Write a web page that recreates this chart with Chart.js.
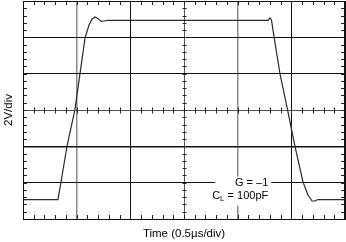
<!DOCTYPE html>
<html>
<head>
<meta charset="utf-8">
<script src="https://cdn.jsdelivr.net/npm/chart.js@4/dist/chart.umd.min.js"></script>
<style>
  html, body { margin: 0; padding: 0; background: #fff; }
  #wrap { width: 346px; height: 242px; }
</style>
</head>
<body>
<div id="wrap"><canvas id="scope"></canvas></div>
<script>
// time in microseconds (0.5 us per division), output in volts (2 V per division)
let timeUs = [0, 0.326, 0.41, 0.484, 0.531, 0.578, 0.615, 0.643, 0.671, 0.699, 0.727, 0.755, 0.792,
  2.283, 2.301, 2.315, 2.339, 2.394, 2.464, 2.534, 2.609, 2.655, 2.693, 2.72, 2.748, 3.0];
let volts = [-4.93, -4.93, -2.0, 0.03, 2.0, 3.97, 4.68, 5.01, 5.12, 5.04, 4.88, 4.9, 4.93,
  4.93, 5.07, 4.96, 4.03, 2.0, 0.03, -2.0, -3.97, -4.68, -5.01, -5.01, -4.93, -4.93];

let xTitle = "Time (0.5\u00b5s/div)";
let yTitle = "2V/div";
let noteGain = "G = \u20131";
let noteLoad = ["C", "L", " = 100pF"];

let font = "'Liberation Sans', Arial, Helvetica, sans-serif";

let points = timeUs.map((t, i) => ({ x: t, y: volts[i] }));

// minor ticks on the frame and on the centre cross, plus the G / CL note
let scopeDecor = {
  id: "scopeDecor",
  afterDatasetsDraw(chart) {
    let { ctx, chartArea: a, scales: { x, y } } = chart;
    ctx.save();
    ctx.strokeStyle = "#222";
    ctx.lineWidth = 1;
    ctx.beginPath();
    let xc = Math.round(x.getPixelForValue(1.5)) + 0.5;
    let yc = Math.round(y.getPixelForValue(0)) + 0.5;
    for (let k = 1; k < 30; k++) {
      let px = Math.round(x.getPixelForValue(k * 0.1)) + 0.5;
      ctx.moveTo(px, a.top); ctx.lineTo(px, a.top + 4);
      ctx.moveTo(px, a.bottom); ctx.lineTo(px, a.bottom - 4);
      ctx.moveTo(px, yc - 3); ctx.lineTo(px, yc + 3);
    }
    for (let k = 1; k < 30; k++) {
      let py = Math.round(y.getPixelForValue(-6 + k * 0.4)) + 0.5;
      ctx.moveTo(a.left, py); ctx.lineTo(a.left + 4, py);
      ctx.moveTo(a.right, py); ctx.lineTo(a.right - 4, py);
      ctx.moveTo(xc - 2, py); ctx.lineTo(xc + 2, py);
    }
    ctx.stroke();

    // note box
    let rx = x.getPixelForValue(2.285);
    let gy = y.getPixelForValue(-4);
    let cy = y.getPixelForValue(-4.68);
    ctx.fillStyle = "#fff";
    ctx.fillRect(rx - 53, gy - 6, 56, 29);
    ctx.fillStyle = "#000";
    ctx.textBaseline = "middle";
    ctx.textAlign = "right";
    ctx.font = "11px " + font;
    ctx.fillText(noteGain, rx, gy);
    let w3 = ctx.measureText(noteLoad[2]).width;
    ctx.fillText(noteLoad[2], rx, cy + 1);
    ctx.font = "8px " + font;
    let w2 = ctx.measureText(noteLoad[1]).width;
    ctx.fillText(noteLoad[1], rx - w3, cy + 4);
    ctx.font = "11px " + font;
    ctx.fillText(noteLoad[0], rx - w3 - w2, cy + 1);
    ctx.restore();
  },
};

let xGridColor = (c) => {
  let v = c.tick ? c.tick.value : 0;
  if (v === 0.5 || v === 2) return "#8a8a8a";
  if (v === 1.5) return "#555";
  return "#111";
};
let xGridWidth = (c) => {
  let v = c.tick ? c.tick.value : 0;
  if (v === 0.5 || v === 2) return 1.5;
  if (v === 3) return 2;
  return 1;
};
let yGridColor = (c) => {
  let v = c.tick ? c.tick.value : 0;
  if (v === 0) return "#555";
  return "#111";
};
let yGridWidth = (c) => {
  let v = c.tick ? c.tick.value : 0;
  if (v === -2) return 1.5;
  return 1;
};

new Chart(document.getElementById("scope"), {
  type: "scatter",
  data: {
    datasets: [
      {
        data: points,
        showLine: true,
        borderColor: "#2a2a2a",
        borderWidth: 1.2,
        pointRadius: 0,
        tension: 0,
      },
    ],
  },
  options: {
    responsive: true,
    maintainAspectRatio: false,
    animation: false,
    layout: { padding: { top: 1, right: 1, left: 0, bottom: 0 } },
    plugins: { legend: { display: false }, tooltip: { enabled: false } },
    scales: {
      x: {
        type: "linear",
        min: 0,
        max: 3,
        ticks: { display: false, stepSize: 0.5 },
        grid: { color: xGridColor, lineWidth: xGridWidth, drawTicks: false },
        border: { display: true, color: "#111", width: 1 },
        title: {
          display: true,
          text: xTitle,
          color: "#000",
          font: { family: font, size: 11.5 },
          padding: { top: 0, bottom: 1.5 },
        },
        afterFit: (s) => { s.height = 23; },
      },
      y: {
        type: "linear",
        min: -6,
        max: 6,
        ticks: { display: false, stepSize: 2 },
        grid: { color: yGridColor, lineWidth: yGridWidth, drawTicks: false },
        border: { display: true, color: "#111", width: 1 },
        title: {
          display: true,
          text: yTitle,
          color: "#000",
          font: { family: font, size: 11.5 },
          padding: { top: 1.5, bottom: 0 },
        },
        afterFit: (s) => { s.width = 23; },
      },
    },
  },
  plugins: [scopeDecor],
});
</script>
</body>
</html>
